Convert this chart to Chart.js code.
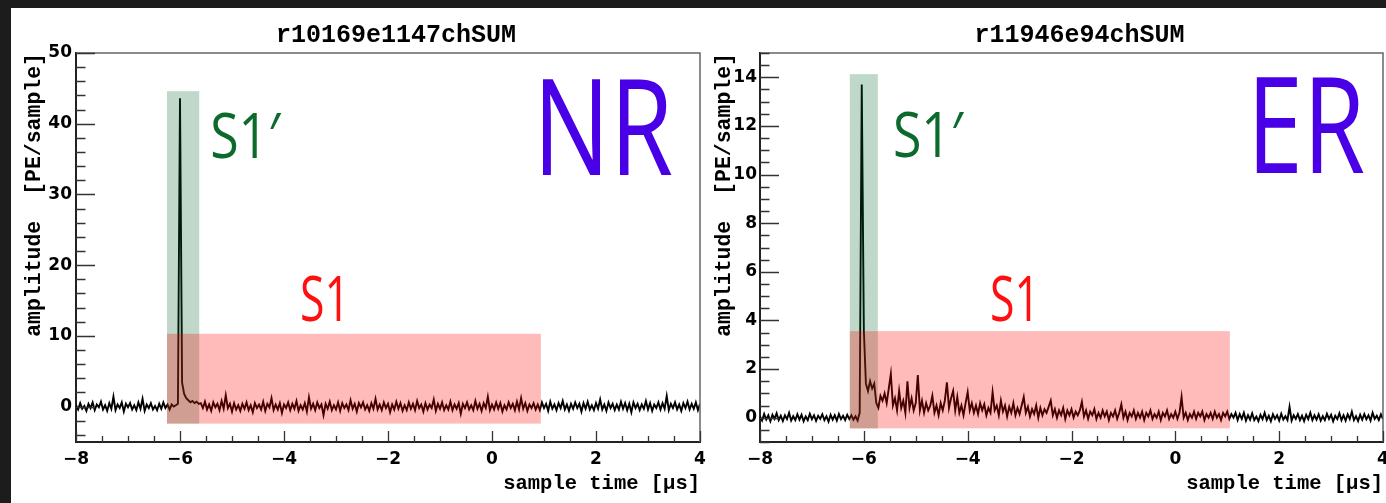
<!DOCTYPE html>
<html><head><meta charset="utf-8">
<script src="https://cdn.jsdelivr.net/npm/chart.js@4.4.1/dist/chart.umd.min.js"></script>
<style>
html,body{margin:0;padding:0;width:1386px;height:503px;overflow:hidden;background:#1c1c1c;}
#panel{position:absolute;left:11px;top:8px;right:0;bottom:0;background:#fff;}
canvas{position:absolute;top:0;}
#cNR{left:0;} #cER{left:690px;}
</style></head><body>
<div id="panel"></div>
<canvas id="cNR" width="720" height="503"></canvas>
<canvas id="cER" width="713" height="503"></canvas>
<script>
// ---- data ----
const T0 = -8, DT = 0.04;            // first sample time [us], sample spacing [us]
const xTickValues = [-8, -6, -4, -2, 0, 2, 4];
const nrTitle = 'r10169e1147chSUM';
const erTitle = 'r11946e94chSUM';
const nrYTicks = [0, 10, 20, 30, 40, 50];
const erYTicks = [0, 2, 4, 6, 8, 10, 12, 14];

const nrAmp = [
0.2,-0.4,0.5,-0.3,0.1,-0.6,0.4,-0.2,0.6,-0.5,
0.3,-0.1,0.7,-0.4,0.2,-0.6,0.5,-0.3,1.4,-0.5,
0.3,-0.2,0.6,-0.7,0.4,-0.1,0.5,-0.4,0.2,-0.5,
0.6,-0.3,1.1,-0.6,0.3,-0.2,0.5,-0.4,0.1,-0.5,
0.4,-0.3,0.6,-0.2,0.3,-0.4,0.3,0.0,0.2,0.4,
43.6,3.4,1.8,1.2,0.9,0.6,0.8,0.5,0.7,0.4,
0.5,-0.2,0.7,-0.4,0.3,-0.6,0.6,-0.1,0.4,-0.5,
0.8,-0.3,1.6,-0.2,0.4,-0.7,0.5,-0.4,0.2,-0.6,
0.4,-0.3,0.6,-0.5,0.2,-0.8,0.5,-0.2,0.3,-0.4,
0.7,-0.6,0.4,-0.1,1.2,-0.5,0.3,-0.4,0.5,-0.9,
0.3,-0.2,0.6,-0.5,0.4,-0.3,0.8,-0.6,0.2,-0.4,
0.5,-0.7,1.3,-0.3,0.4,-0.5,0.6,-0.2,0.3,-1.2,
0.4,-0.3,0.7,-0.5,0.2,-0.4,0.6,-0.6,0.5,-0.2,
0.3,-0.5,0.9,-0.3,0.4,-0.7,0.5,-0.1,0.6,-0.4,
0.2,-0.6,0.5,-0.3,1.1,-0.4,0.3,-0.5,0.6,-0.2,
0.4,-0.8,0.3,-0.4,0.7,-0.3,0.5,-0.6,0.2,-0.5,
0.6,-0.3,0.4,-0.5,0.8,-0.2,0.3,-0.7,0.5,-0.4,
0.3,-0.2,1.0,-0.6,0.4,-0.3,0.6,-0.5,0.2,-0.4,
0.7,-0.5,0.3,-0.3,0.5,-1.0,0.4,-0.2,0.6,-0.4,
0.2,-0.5,0.8,-0.3,0.4,-0.6,0.5,-0.2,1.4,-0.5,
0.3,-0.4,0.6,-0.3,0.5,-0.7,0.2,-0.4,0.6,-0.2,
0.4,-0.5,0.7,-0.4,1.2,-0.3,0.5,-0.6,0.3,-0.2,
0.5,-0.4,0.3,-0.5,0.6,-0.2,0.4,-0.6,0.7,-0.3,
0.3,-0.5,0.5,-0.2,0.8,-0.4,0.3,-0.6,0.4,-0.3,
0.6,-0.2,0.4,-0.7,0.5,-0.3,0.7,-0.4,0.2,-0.5,
0.5,-0.3,1.0,-0.4,0.3,-0.6,0.6,-0.2,0.4,-0.5,
0.3,-0.4,0.7,-0.3,0.5,-0.5,0.4,-0.8,0.6,-0.2,
0.4,-0.5,0.3,-0.3,0.8,-0.4,0.5,-0.6,0.3,-0.2,
0.6,-0.4,0.5,-0.3,1.5,-0.5,0.4,-0.2,0.6,-0.4,
0.3,-0.6,0.5,-0.2,0.7,-0.4,0.4,-0.3,0.6,-0.5,
0.4
];

const erAmp = [
0.05,-0.12,0.15,-0.08,0.1,-0.15,0.12,-0.05,0.18,-0.1,
0.08,-0.14,0.1,-0.06,0.2,-0.12,0.06,-0.1,0.14,-0.08,
0.12,-0.15,0.05,-0.1,0.16,-0.06,0.1,-0.13,0.08,-0.05,
0.14,-0.1,0.06,-0.16,0.12,-0.08,0.1,-0.12,0.15,-0.06,
0.08,-0.1,0.12,-0.05,0.1,-0.08,0.06,-0.12,0.2,13.7,
3.6,1.4,1.1,1.5,1.2,1.4,0.6,0.4,0.9,0.7,
1.0,0.6,1.2,1.8,0.5,0.8,0.3,1.1,0.4,0.7,
0.2,1.5,0.4,0.8,0.3,0.6,1.75,0.3,0.7,0.2,
0.6,0.3,0.5,0.9,0.2,0.5,0.1,0.6,0.3,0.7,
1.45,0.4,0.8,1.1,0.3,0.85,0.2,0.5,0.1,0.6,
1.05,0.3,0.6,0.2,0.5,0.15,0.6,0.3,0.55,0.1,
0.4,0.2,1.05,0.3,0.5,0.1,0.7,0.25,0.5,0.05,
0.45,0.2,0.6,0.1,0.4,0.15,0.5,0.85,0.2,0.45,
0.05,0.35,0.15,0.5,0.0,0.4,0.1,0.35,0.2,0.45,
0.7,0.1,0.35,0.0,0.3,0.1,0.4,-0.05,0.3,0.1,
0.35,0.0,0.25,0.1,0.3,0.65,0.05,0.3,-0.05,0.25,
0.1,0.35,-0.05,0.2,0.0,0.3,0.05,0.25,-0.1,0.2,
0.05,0.3,-0.05,0.2,0.55,0.0,0.25,-0.1,0.2,0.05,
0.3,-0.05,0.2,0.0,0.25,-0.1,0.2,0.05,0.3,-0.05,
0.15,0.0,0.25,-0.1,0.2,0.05,0.3,-0.05,0.15,0.0,
0.25,-0.05,0.2,0.85,0.0,0.2,-0.1,0.15,0.0,0.25,
-0.05,0.2,0.05,0.25,-0.1,0.15,0.0,0.2,-0.05,0.25,
0.0,0.15,-0.1,0.2,0.05,0.25,-0.05,0.15,0.0,0.2,
-0.1,0.15,-0.05,0.2,-0.12,0.1,-0.08,0.18,-0.1,0.05,
-0.14,0.12,-0.06,0.2,-0.1,0.08,-0.15,0.14,-0.05,0.1,
-0.12,0.16,-0.08,0.06,-0.1,0.45,-0.12,0.1,-0.05,0.15,
-0.1,0.08,-0.14,0.12,-0.06,0.2,-0.1,0.1,-0.08,0.14,
-0.12,0.06,-0.1,0.16,-0.05,0.12,-0.15,0.08,-0.06,0.18,
-0.1,0.1,-0.12,0.14,-0.05,0.25,-0.1,0.06,-0.14,0.12,
-0.08,0.15,-0.06,0.1,-0.12,0.2,-0.05,0.08,-0.1,0.14,
-0.06
];

// integration windows (time range [us], amplitude range)
const nrS1pT = [-6.25, -5.63], nrS1pA = [-2.4, 44.6];
const nrS1T  = [-6.25, 0.94],  nrS1A  = [-2.4, 10.3];
const erS1pT = [-6.27, -5.73], erS1pA = [-0.44, 14.13];
const erS1T  = [-6.27, 1.05],  erS1A  = [-0.44, 3.56];

// ---- drawing helpers ----
const GREEN_BOX = 'rgba(0,100,45,0.25)';
const RED_BOX = 'rgba(255,0,0,0.27)';
const fmt = v => (v < 0 ? '\u2212' + Math.abs(v) : String(v));

const rootFrame = {
  id: 'rootFrame',
  afterDatasetsDraw(chart, args, o) {
    const {ctx, chartArea: a, scales: {x, y}} = chart;
    ctx.save();
    ctx.beginPath(); ctx.rect(a.left, a.top, a.right - a.left, a.bottom - a.top); ctx.clip();
    o.boxes.forEach(b => {
      const x0 = x.getPixelForValue(b.t[0]), x1 = x.getPixelForValue(b.t[1]);
      const y0 = y.getPixelForValue(b.a[0]), y1 = y.getPixelForValue(b.a[1]);
      ctx.fillStyle = b.color;
      ctx.fillRect(x0, y1, x1 - x0, y0 - y1);
    });
    ctx.restore();
  },
  afterDraw(chart, args, o) {
    const {ctx, chartArea: a, scales: {x, y}} = chart;
    ctx.save();
    ctx.strokeStyle = '#666'; ctx.lineWidth = 1.5;
    ctx.beginPath(); ctx.moveTo(a.left, a.top); ctx.lineTo(a.right, a.top); ctx.lineTo(a.right, a.bottom); ctx.stroke();
    ctx.strokeStyle = '#333'; ctx.lineWidth = 1.3;
    ctx.beginPath();
    const yMaj = y.ticks.map(t => t.value);
    for (let n = Math.ceil(y.min / o.yMinor - 1e-9); n * o.yMinor <= y.max + 1e-9; n++) {
      const v = n * o.yMinor, major = yMaj.some(m => Math.abs(m - v) < 1e-6);
      const py = Math.round(y.getPixelForValue(v)) + 0.5;
      ctx.moveTo(a.left, py); ctx.lineTo(a.left + (major ? 19 : 9.5), py);
    }
    const xMaj = x.ticks.map(t => t.value);
    for (let n = Math.ceil(x.min / o.xMinor - 1e-9); n * o.xMinor <= x.max + 1e-9; n++) {
      const v = n * o.xMinor, major = xMaj.some(m => Math.abs(m - v) < 1e-6);
      const px = Math.round(x.getPixelForValue(v)) + 0.5;
      ctx.moveTo(px, a.bottom); ctx.lineTo(px, a.bottom - (major ? 11 : 6));
    }
    ctx.stroke();
    o.labels.forEach(l => {
      ctx.font = l.font; ctx.fillStyle = l.color; ctx.textAlign = 'left'; ctx.textBaseline = 'alphabetic';
      ctx.fillText(l.text, x.getPixelForValue(l.x), y.getPixelForValue(l.y), l.maxWidth);
    });
    ctx.font = 'bold 25px "Liberation Mono"'; ctx.fillStyle = '#000'; ctx.textAlign = 'center';
    ctx.fillText(o.title, (a.left + a.right) / 2 + 8, a.top - 11);
    ctx.restore();
  }
};

const tickFont = {family: "'DejaVu Sans'", weight: 'bold', size: 17};

function makeChart(id, amp, c) {
  const pts = amp.map((v, i) => ({x: +(T0 + i * DT).toFixed(2), y: v}));
  return new Chart(document.getElementById(id), {
    type: 'line',
    data: {datasets: [{data: pts, borderColor: '#000', borderWidth: 1.9, pointRadius: 0, tension: 0, fill: false}]},
    options: {
      responsive: false, animation: false, devicePixelRatio: 1,
      layout: {padding: {left: c.padL, top: 53, right: 20, bottom: 0}},
      plugins: {
        legend: {display: false}, tooltip: {enabled: false}, title: {display: false},
        rootFrame: {boxes: c.boxes, labels: c.labels, title: c.title, yMinor: c.yMinor, xMinor: 0.5}
      },
      scales: {
        x: {
          type: 'linear', min: -8, max: 4,
          afterBuildTicks: s => { s.ticks = xTickValues.map(v => ({value: v})); },
          afterFit: s => { s.height = 61; },
          grid: {display: false, drawTicks: false},
          border: {display: true, color: '#222', width: 2},
          ticks: {autoSkip: false, maxRotation: 0, padding: 7, color: '#000', font: tickFont, callback: fmt},
          title: {display: true, text: 'sample time [\u03bcs]', align: 'end', color: '#000',
                  font: {family: "'Liberation Mono'", weight: 'bold', size: 20.5}, padding: {top: 0, bottom: 7}}
        },
        y: {
          type: 'linear', min: c.yMin, max: c.yMax,
          afterBuildTicks: s => { s.ticks = c.yTicks.map(v => ({value: v})); },
          afterFit: s => { s.width = c.yWidth; },
          grid: {display: false, drawTicks: false},
          border: {display: true, color: '#222', width: 2},
          ticks: {autoSkip: false, padding: c.yPad, color: '#000', font: tickFont, callback: fmt},
          title: {display: true, text: 'amplitude  [PE/sample]', align: 'end', color: '#000',
                  font: {family: "'Liberation Mono'", weight: 'bold', size: 21.5}, padding: {top: c.yTitlePad, bottom: 0}}
        }
      }
    },
    plugins: [rootFrame]
  });
}

const bigFont = '134px "Open Sans"';
const sFont = '63px "Open Sans"';

makeChart('cNR', nrAmp, {
  padL: 12, yWidth: 64, yPad: 4, yTitlePad: 10, yMin: -5, yMax: 50, yTicks: nrYTicks, yMinor: 2, title: nrTitle,
  boxes: [{t: nrS1pT, a: nrS1pA, color: GREEN_BOX}, {t: nrS1T, a: nrS1A, color: RED_BOX}],
  labels: [
    {text: 'S1\u2032', x: -5.42, y: 35.2, font: sFont, color: '#0b6a2c', maxWidth: 70},
    {text: 'S1', x: -3.69, y: 12.1, font: sFont, color: '#ff1010', maxWidth: 50},
    {text: 'NR', x: 0.79, y: 32.7, font: bigFont, color: '#4a00e6', maxWidth: 140}
  ]
});

makeChart('cER', erAmp, {
  padL: 8, yWidth: 62, yPad: 3, yTitlePad: 14, yMin: -1, yMax: 15, yTicks: erYTicks, yMinor: 0.5, title: erTitle,
  boxes: [{t: erS1pT, a: erS1pA, color: GREEN_BOX}, {t: erS1T, a: erS1A, color: RED_BOX}],
  labels: [
    {text: 'S1\u2032', x: -5.44, y: 10.72, font: sFont, color: '#0b6a2c', maxWidth: 70},
    {text: 'S1', x: -3.57, y: 3.98, font: sFont, color: '#ff1010', maxWidth: 50},
    {text: 'ER', x: 1.38, y: 10.07, font: bigFont, color: '#4a00e6', maxWidth: 118}
  ]
});
</script>
</body></html>
